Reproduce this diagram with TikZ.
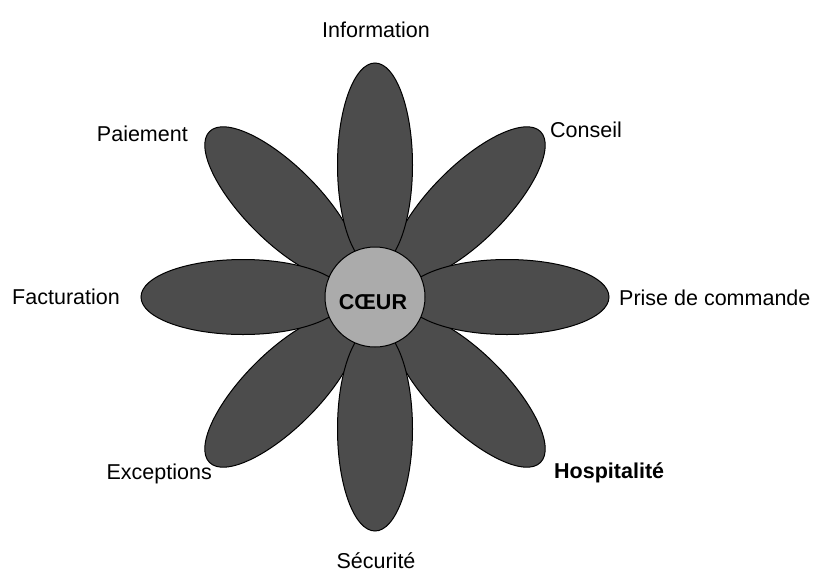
\documentclass[tikz,border=0pt]{standalone}
\usepackage{fontspec}
\setmainfont{Liberation Sans}

\begin{document}
\begin{tikzpicture}[x=1pt, y=-1pt,
        petal/.style={draw=black, line width=1pt, fill=black!70},
        lbl/.style={font=\fontsize{21.5}{24}\selectfont, inner sep=0pt}]
        \useasboundingbox (0,0) rectangle (816,571);

        % diagonal petals first, the straight ones on top
        \foreach \a in {45,135,225,315}
            \draw[petal, shift={(375,297)}, rotate=\a] (132,0) ellipse (102 and 37.5);
        \foreach \a in {0,90,180,270}
            \draw[petal, shift={(375,297)}, rotate=\a] (132,0) ellipse (102 and 37.5);

        \node[circle, draw, line width=1pt, fill=black!33, minimum size=100pt, inner sep=0pt] (coeur) at (375,297) {};
        \node[lbl, anchor=base] (coeurtxt) at ([xshift=-2pt, yshift=-12pt]coeur.center) {\bfseries CŒUR};

        \node[lbl, anchor=base] (info) at (376,37) {Information};
        \node[lbl, anchor=base west] (conseil) at (550,137) {Conseil};
        \node[lbl, anchor=base east] (paiement) at (188,141) {Paiement};
        \node[lbl, anchor=base east] (factu) at (120,304) {Facturation};
        \node[lbl, anchor=base west] (prise) at (619,305) {Prise de commande};
        \node[lbl, anchor=base east] (except) at (212,479) {Exceptions};
        \node[lbl, anchor=base west] (hosp) at (554,478) {\bfseries Hospitalité};
        \node[lbl, anchor=base] (secu) at (376,568) {Sécurité};
\end{tikzpicture}
\end{document}
